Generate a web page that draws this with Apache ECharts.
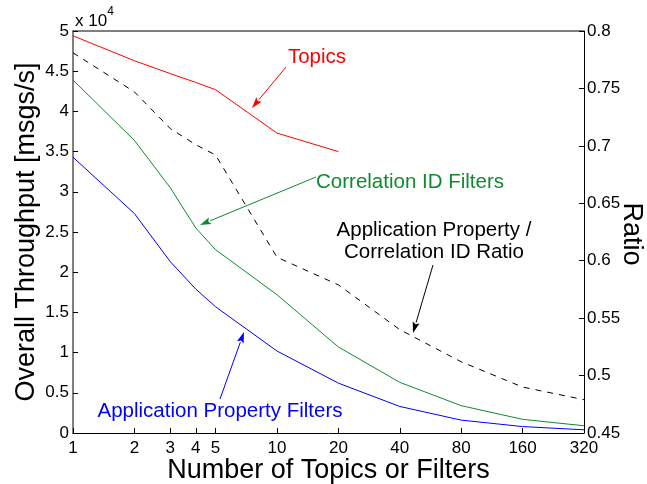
<!DOCTYPE html>
<html>
<head>
<meta charset="utf-8">
<script src="https://cdn.jsdelivr.net/npm/echarts@6/dist/echarts.min.js"></script>
<style>html,body{margin:0;padding:0;background:#fff}#c{width:647px;height:484px}</style>
</head>
<body>
<div id="c"></div>
<script>
// x values (number of topics or filters)
var xTicks = [1, 2, 3, 4, 5, 10, 20, 40, 80, 160, 320];
// throughput in units of 10^4 msgs/s
var topicsX = [1, 2, 3, 4, 5, 10, 20];
var topicsY = [4.94, 4.63, 4.47, 4.36, 4.27, 3.73, 3.50];
var corrX = [1, 2, 3, 4, 5, 10, 20, 40, 80, 160, 320];
var corrY = [4.39, 3.64, 3.05, 2.55, 2.28, 1.72, 1.07, 0.63, 0.34, 0.17, 0.09];
var appX = [1, 2, 3, 4, 5, 10, 20, 40, 80, 160, 320];
var appY = [3.43, 2.73, 2.13, 1.79, 1.57, 1.02, 0.62, 0.33, 0.16, 0.08, 0.04];
// ratio (right axis)
var ratioX = [1, 2, 3, 4, 5, 10, 20, 40, 80, 160, 320];
var ratioY = [0.781, 0.747, 0.715, 0.701, 0.692, 0.603, 0.579, 0.540, 0.512, 0.490, 0.479];

function pairs(xs, ys) { return xs.map(function (x, i) { return [x, ys[i]]; }); }

var FONT = 'Liberation Sans, Arial, Helvetica, sans-serif';
var chart = echarts.init(document.getElementById('c'));

function arrow(x1, y1, x2, y2, color) {
  var dx = x2 - x1, dy = y2 - y1, L = Math.sqrt(dx * dx + dy * dy);
  var ux = dx / L, uy = dy / L, hl = 11, hw = 3.5;
  var bx = x2 - ux * hl, by = y2 - uy * hl;
  return [
    { type: 'line', shape: { x1: x1, y1: y1, x2: bx, y2: by }, style: { stroke: color, lineWidth: 1 }, z: 10 },
    { type: 'polygon', shape: { points: [[x2, y2], [bx - uy * hw, by + ux * hw], [bx + ux * 2, by + uy * 2], [bx + uy * hw, by - ux * hw]] }, style: { fill: color }, z: 10 }
  ];
}

var graphics = [
  { type: 'text', left: 75, top: 6, style: { text: '{a|x 10}{b|4}', rich: { a: { fontSize: 17, fontFamily: FONT, fill: '#000', verticalAlign: 'bottom', lineHeight: 24 }, b: { fontSize: 12, fontFamily: FONT, fill: '#000', verticalAlign: 'top', lineHeight: 14 } } }, z: 10 },
  { type: 'text', x: 317, y: 57, style: { text: 'Topics', fontSize: 20.5, fontFamily: FONT, fill: '#ff0000', align: 'center', verticalAlign: 'middle' }, z: 10 },
  { type: 'text', x: 410, y: 182, style: { text: 'Correlation ID Filters', fontSize: 20.5, fontFamily: FONT, fill: '#108a30', align: 'center', verticalAlign: 'middle' }, z: 10 },
  { type: 'text', x: 434, y: 241, style: { text: 'Application Property /\nCorrelation ID Ratio', fontSize: 20.5, fontFamily: FONT, fill: '#000', align: 'center', verticalAlign: 'middle', lineHeight: 22 }, z: 10 },
  { type: 'text', x: 220, y: 411, style: { text: 'Application Property Filters', fontSize: 20.5, fontFamily: FONT, fill: '#0000ff', align: 'center', verticalAlign: 'middle' }, z: 10 },
  // axis titles
  { type: 'text', x: 328.5, y: 471, style: { text: 'Number of Topics or Filters', fontSize: 27, fontFamily: FONT, fill: '#000', align: 'center', verticalAlign: 'middle' }, z: 10 },
  { type: 'text', x: 27, y: 232, rotation: Math.PI / 2, style: { text: 'Overall Throughput [msgs/s]', fontSize: 27, fontFamily: FONT, fill: '#000', align: 'center', verticalAlign: 'middle' }, z: 10 },
  { type: 'text', x: 631, y: 234, rotation: -Math.PI / 2, style: { text: 'Ratio', fontSize: 27, fontFamily: FONT, fill: '#000', align: 'center', verticalAlign: 'middle' }, z: 10 },
  { type: 'line', shape: { x1: 73, y1: 31, x2: 584, y2: 31 }, style: { stroke: '#000', lineWidth: 1 }, z: 5 }
].concat(arrow(286, 67, 252, 108, '#ff0000'))
 .concat(arrow(316, 177, 200, 225, '#108a30'))
 .concat(arrow(433, 265, 413, 333, '#000'))
 .concat(arrow(220, 399, 244, 332, '#0000ff'));

var option = {
  animation: false,
  backgroundColor: '#fff',
  grid: { left: 73, right: 63, top: 31, bottom: 51, containLabel: false, outerBoundsMode: 'none' },
  xAxis: {
    type: 'log', logBase: 10, min: 1, max: 320,
    axisLine: { lineStyle: { color: '#000', width: 1 } },
    axisTick: { inside: true, length: 5, lineStyle: { color: '#000' }, customValues: xTicks },
    axisLabel: { fontSize: 17, fontFamily: FONT, color: '#000', margin: 7, customValues: xTicks, formatter: function (v) { return String(Math.round(v)); } },
    minorTick: { show: false }, splitLine: { show: false }
  },
  yAxis: [
    {
      type: 'value', min: 0, max: 5, interval: 0.5, position: 'left',
      axisLine: { show: true, lineStyle: { color: '#808080', width: 2 } },
      axisTick: { show: true, inside: true, length: 5, lineStyle: { color: '#000' } },
      axisLabel: { fontSize: 17, fontFamily: FONT, color: '#000', margin: 4, formatter: function (v) { return String(Math.round(v * 10) / 10); } },
      splitLine: { show: false }
    },
    {
      type: 'value', min: 0.45, max: 0.8, interval: 0.05, position: 'right',
      axisLine: { show: true, lineStyle: { color: '#000', width: 1 } },
      axisTick: { show: true, inside: true, length: 5, lineStyle: { color: '#000' } },
      axisLabel: { fontSize: 17, fontFamily: FONT, color: '#000', margin: 3, formatter: function (v) { return String(Math.round(v * 100) / 100); } },
      splitLine: { show: false }
    }
  ],
  series: [
    { type: 'line', name: 'Topics', data: pairs(topicsX, topicsY), yAxisIndex: 0, showSymbol: false, lineStyle: { color: '#ff0000', width: 1 }, itemStyle: { color: '#ff0000' }, z: 3 },
    { type: 'line', name: 'Correlation ID Filters', data: pairs(corrX, corrY), yAxisIndex: 0, showSymbol: false, lineStyle: { color: '#108a30', width: 1 }, itemStyle: { color: '#108a30' }, z: 3 },
    { type: 'line', name: 'Application Property Filters', data: pairs(appX, appY), yAxisIndex: 0, showSymbol: false, lineStyle: { color: '#0000ff', width: 1 }, itemStyle: { color: '#0000ff' }, z: 3 },
    { type: 'line', name: 'Ratio', data: pairs(ratioX, ratioY), yAxisIndex: 1, showSymbol: false, lineStyle: { color: '#000', width: 1, type: [6, 6] }, itemStyle: { color: '#000' }, z: 3 }
  ],
  graphic: graphics
};
chart.setOption(option);
</script>
</body>
</html>
